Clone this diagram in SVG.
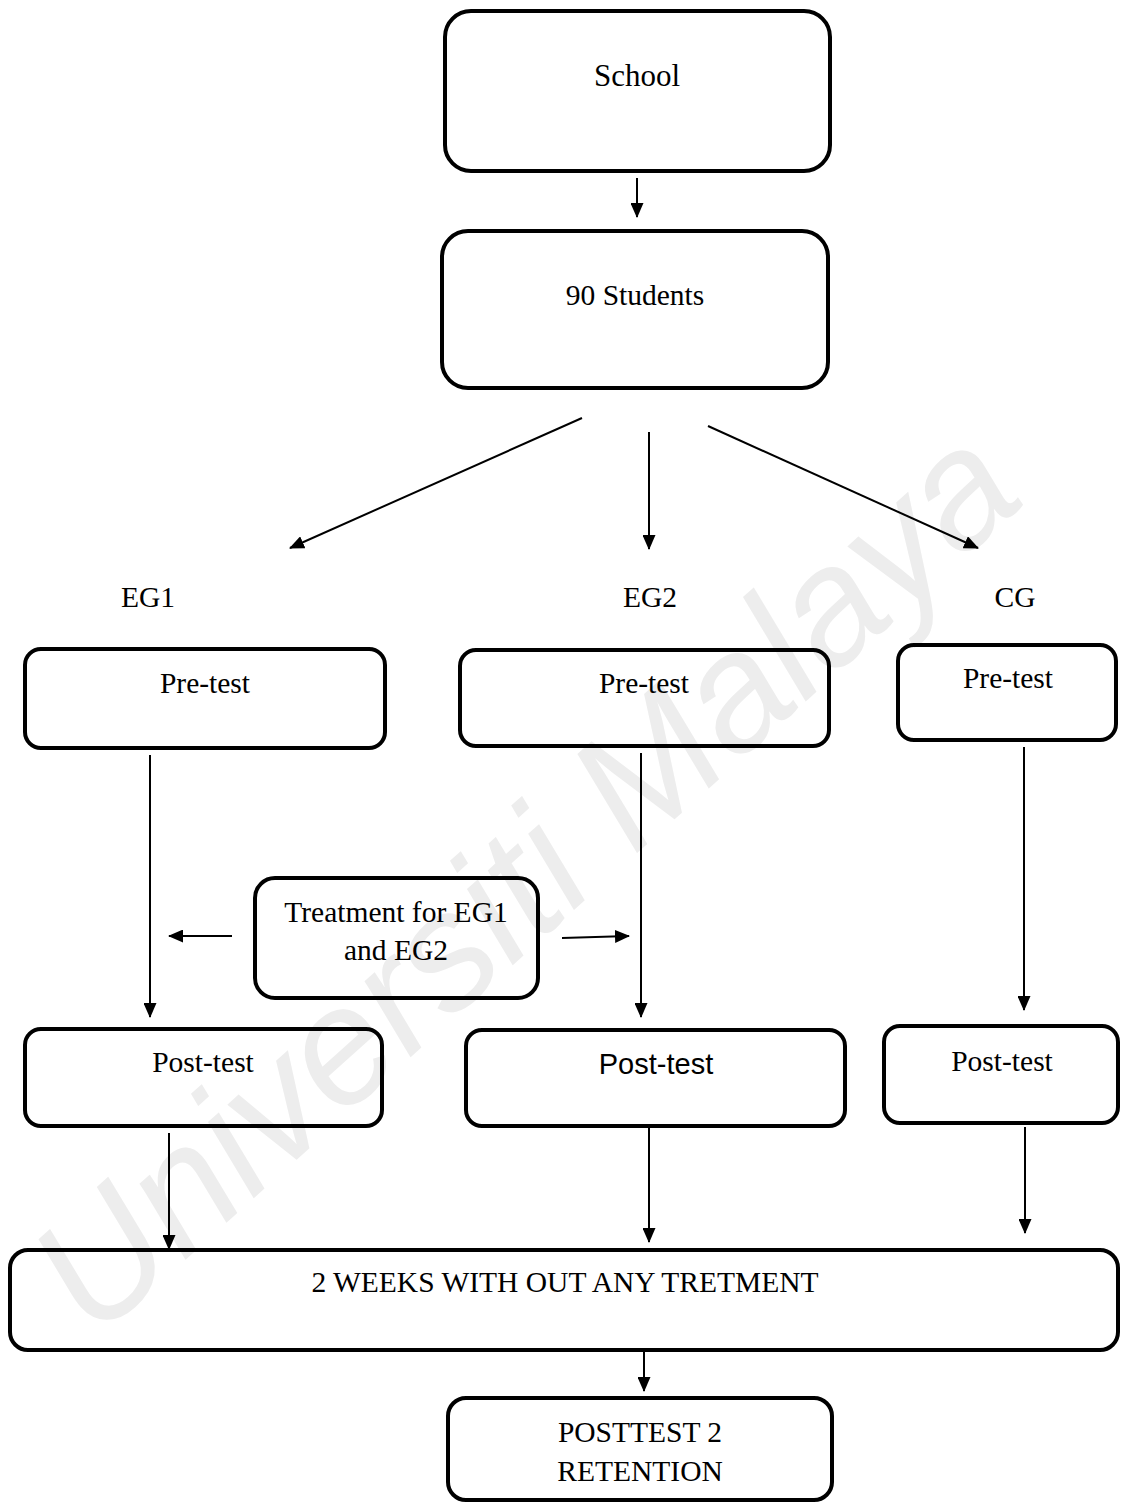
<svg xmlns="http://www.w3.org/2000/svg" width="1122" height="1502" viewBox="0 0 1122 1502">
<style>
.box{fill:none;stroke:#000;stroke-width:4}
.t{font-family:"Liberation Serif","Times New Roman",serif;font-size:29.5px;fill:#000;text-anchor:middle}
.s{font-family:"Liberation Sans",Arial,sans-serif;font-size:29px;fill:#000;text-anchor:middle}
.c{stroke:#000;stroke-width:2;fill:none;marker-end:url(#ah)}
.wm{font-family:"Liberation Sans",Arial,sans-serif;font-size:165px;font-style:italic;fill:#ededed;text-anchor:middle}
</style>
<defs>
<marker id="ah" markerUnits="userSpaceOnUse" markerWidth="15" markerHeight="13" refX="14" refY="6.5" orient="auto">
<path d="M0,0 L15,6.5 L0,13 Z" fill="#000"/>
</marker>
</defs>
<rect width="1122" height="1502" fill="#fff"/>
<text class="wm" transform="translate(525,880) rotate(-42)" x="0" y="55">Universiti Malaya</text>

<g id="school"><rect class="box" x="445" y="11" width="385" height="160" rx="26"/><text class="t" x="637" y="86" style="font-size:31px">School</text></g>
<g id="students"><rect class="box" x="442" y="231" width="386" height="157" rx="26"/><text class="t" x="635" y="305">90 Students</text></g>
<g id="eg1"><text class="t" x="148" y="607">EG1</text></g>
<g id="eg2"><text class="t" x="650" y="607">EG2</text></g>
<g id="cg"><text class="t" x="1015" y="607">CG</text></g>
<g id="pre1"><rect class="box" x="25" y="649" width="360" height="99" rx="16"/><text class="t" x="205" y="693">Pre-test</text></g>
<g id="pre2"><rect class="box" x="460" y="650" width="369" height="96" rx="16"/><text class="t" x="644" y="693">Pre-test</text></g>
<g id="pre3"><rect class="box" x="898" y="645" width="218" height="95" rx="16"/><text class="t" x="1008" y="688">Pre-test</text></g>
<g id="treat"><rect class="box" x="255" y="878" width="283" height="120" rx="20"/><text class="t" x="396" y="922">Treatment for EG1</text><text class="t" x="396" y="960">and EG2</text></g>
<g id="post1"><rect class="box" x="25" y="1029" width="357" height="97" rx="16"/><text class="t" x="203" y="1072">Post-test</text></g>
<g id="post2"><rect class="box" x="466" y="1030" width="379" height="96" rx="16"/><text class="s" x="656" y="1074">Post-test</text></g>
<g id="post3"><rect class="box" x="884" y="1026" width="234" height="97" rx="16"/><text class="t" x="1002" y="1071">Post-test</text></g>
<g id="weeks"><rect class="box" x="10" y="1250" width="1108" height="100" rx="18"/><text class="t" x="565" y="1292">2 WEEKS WITH OUT ANY TRETMENT</text></g>
<g id="posttest2"><rect class="box" x="448" y="1398" width="384" height="102" rx="18"/><text class="t" x="640" y="1442">POSTTEST 2</text><text class="t" x="640" y="1481">RETENTION</text></g>

<g id="connectors">
<line class="c" x1="637" y1="178" x2="637" y2="217"/>
<line class="c" x1="582" y1="418" x2="290" y2="548"/>
<line class="c" x1="649" y1="432" x2="649" y2="549"/>
<line class="c" x1="708" y1="426" x2="978" y2="548"/>
<line class="c" x1="150" y1="755" x2="150" y2="1017"/>
<line class="c" x1="641" y1="753" x2="641" y2="1017"/>
<line class="c" x1="1024" y1="747" x2="1024" y2="1010"/>
<line class="c" x1="232" y1="936" x2="169" y2="936"/>
<line class="c" x1="562" y1="938" x2="629" y2="936"/>
<line class="c" x1="169" y1="1133" x2="169" y2="1249"/>
<line class="c" x1="649" y1="1128" x2="649" y2="1242"/>
<line class="c" x1="1025" y1="1127" x2="1025" y2="1233"/>
<line class="c" x1="644" y1="1352" x2="644" y2="1391"/>
</g>
</svg>
